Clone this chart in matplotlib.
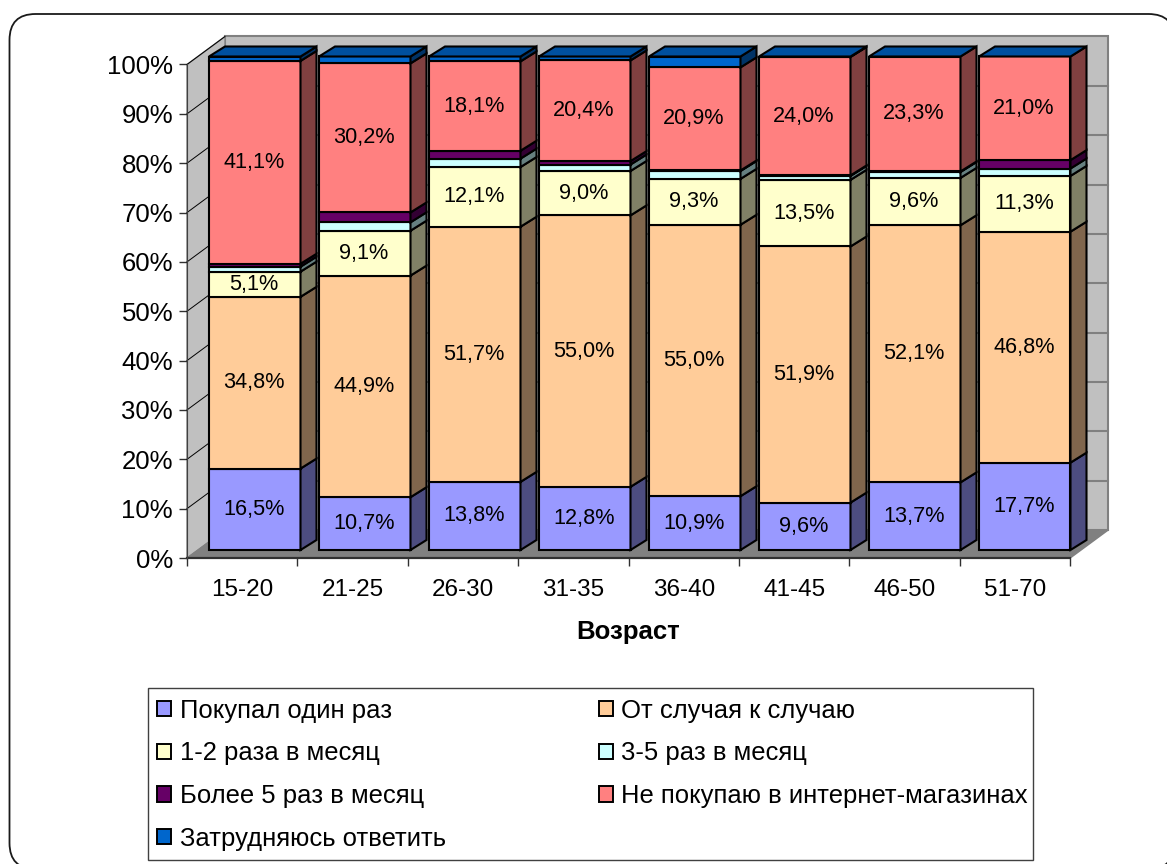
import matplotlib
matplotlib.use('Agg')
import matplotlib.pyplot as plt
import numpy as np
from matplotlib.patches import Polygon, Patch, FancyBboxPatch, Rectangle

plt.rcParams['font.family'] = ['Liberation Sans', 'DejaVu Sans']

ages = ['15-20', '21-25', '26-30', '31-35', '36-40', '41-45', '46-50', '51-70']

once = [16.5, 10.7, 13.8, 12.8, 10.9, 9.6, 13.7, 17.7]
sometimes = [34.8, 44.9, 51.7, 55.0, 55.0, 51.9, 52.1, 46.8]
monthly_1_2 = [5.1, 9.1, 12.1, 9.0, 9.3, 13.5, 9.6, 11.3]
monthly_3_5 = [1.0, 1.7, 1.7, 1.3, 1.6, 0.8, 1.2, 1.5]
monthly_5_plus = [0.6, 2.0, 1.6, 0.7, 0.1, 0.1, 0.1, 1.7]
never = [41.1, 30.2, 18.1, 20.4, 20.9, 24.0, 23.3, 21.0]
no_answer = [0.9, 1.4, 1.0, 0.8, 2.2, 0.1, 0.0, 0.0]

names = ['Покупал один раз', 'От случая к случаю', '1-2 раза в месяц', '3-5 раз в месяц',
         'Более 5 раз в месяц', 'Не покупаю в интернет-магазинах', 'Затрудняюсь ответить']
colors = ['#9999FF', '#FFCC99', '#FFFFCC', '#CCFFFF', '#660066', '#FF8080', '#0066CC']
series = [once, sometimes, monthly_1_2, monthly_3_5, monthly_5_plus, never, no_answer]
labelled = [0, 1, 2, 5]

W, H = 1167, 864
fig = plt.figure(figsize=(W / 100, H / 100), dpi=100)

# outer rounded frame, runs off the picture on the right and bottom
bg = fig.add_axes([0, 0, 1, 1])
bg.set_xlim(0, W)
bg.set_ylim(H, 0)
bg.axis('off')
bg.add_patch(FancyBboxPatch((9.5, 14), 1165, 855, boxstyle='round,pad=0,rounding_size=26',
                            fc='white', ec='#1a1a1a', lw=1.3))
# legend box, drawn apart because its right padding is much smaller than the left one
bg.add_patch(Rectangle((148, 688), 885, 172, fc='white', ec='#404040', lw=1.0))

# plot axes: 0% and the first category on the front corner of the 3d box
x0, x1, y0, y1 = 187, 1070, 558, 64.5
ax = fig.add_axes([x0 / W, 1 - y0 / H, (x1 - x0) / W, (y0 - y1) / H])
ax.set_xlim(0, 8)
ax.set_ylim(0, 100)
ax.patch.set_visible(False)
px = 8 / (x1 - x0)
py = 100 / (y0 - y1)


def poly(pts, fc, ec='none', lw=0, z=1):
    ax.add_patch(Polygon(pts, closed=True, fc=fc, ec=ec, lw=lw, zorder=z, clip_on=False, joinstyle='miter'))


# walls and floor
wx, wy = 38 * px, 28 * py
poly([(0, 0), (wx, wy), (8 + wx, wy), (8, 0)], '#808080')
poly([(wx, wy), (wx, 100 + wy), (8 + wx, 100 + wy), (8 + wx, wy)], '#C0C0C0', '#808080', 1.5)
poly([(0, 0), (0, 100), (wx, 100 + wy), (wx, wy)], '#C0C0C0', '#808080', 1.0)
for t in range(10, 100, 10):
    ax.plot([wx, 8 + wx], [t + wy, t + wy], color='#808080', lw=1.5, zorder=2, clip_on=False)
for t in range(0, 101, 10):
    ax.plot([0, wx], [t, t + wy], color='#000000' if t else '#808080', lw=0.7, zorder=2, clip_on=False)
ax.plot([8, 8 + wx], [0, wy], color='#808080', lw=1.2, zorder=2, clip_on=False)

# stacked bars with side and top faces
width = 91.5 * px
pitch = 110 * px
oy = 8 * py
dx, dy = 16 * px, 10 * py
lw = 1.5
for i in range(len(ages)):
    left = i * pitch + 22 * px
    bottom = oy
    for s, vals in enumerate(series):
        v = vals[i]
        if v <= 0:
            continue
        c = np.array(matplotlib.colors.to_rgb(colors[s]))
        ax.bar(left + width / 2, v, width=width, bottom=bottom, color=colors[s], edgecolor='black',
               lw=lw, zorder=5, clip_on=False)
        poly([(left + width, bottom), (left + width + dx, bottom + dy),
              (left + width + dx, bottom + v + dy), (left + width, bottom + v)], c * 0.5, 'black', lw, 5)
        if s in labelled:
            ax.text(left + width / 2 - 1 * px, bottom + v / 2, f'{v:.1f}%'.replace('.', ','),
                    ha='center', va='center', fontsize=15.6, color='black', zorder=8)
        bottom += v
    # the top face always takes the colour of the last series
    top = 100 + oy
    c = np.array(matplotlib.colors.to_rgb(colors[-1]))
    poly([(left, top), (left + dx, top + dy), (left + width + dx, top + dy),
          (left + width, top)], c * 0.78, 'black', lw, 6)

# axes and labels
for side in ['top', 'right']:
    ax.spines[side].set_visible(False)
ax.spines['left'].set_color('#404040')
ax.spines['bottom'].set_color('#303030')
ax.spines['bottom'].set_linewidth(1.6)
ax.spines['left'].set_zorder(3)
ax.set_yticks(range(0, 101, 10))
ax.set_yticklabels([f'{t}%' for t in range(0, 101, 10)], fontsize=18.5)
ax.set_xticks(range(9))
ax.set_xticklabels([''] * 9)
ax.set_xticks(np.arange(8) + 0.5, ages, minor=True, fontsize=17.5)
ax.tick_params(axis='x', which='minor', length=0, pad=15)
ax.tick_params(axis='x', which='major', length=6, width=1.0, color='#303030')
ax.tick_params(axis='y', length=6, width=1.0, color='#303030', pad=4)
ax.set_xlabel('Возраст', fontsize=18.5, fontweight='bold', labelpad=14)

order = [0, 2, 4, 6, 1, 3, 5]
handles = [Patch(fc=colors[k], ec='black', lw=1.4) for k in order]
fig.legend(handles, [names[k] for k in order], ncol=2, loc='upper left',
           bbox_to_anchor=(148 / W, 1 - 689.5 / H), borderaxespad=0, fontsize=18.45,
           frameon=False, handlelength=0.55, handleheight=0.55, handletextpad=0.34,
           labelspacing=0.73, columnspacing=5.95, borderpad=0.36)

fig.savefig('out.png', dpi=100)
